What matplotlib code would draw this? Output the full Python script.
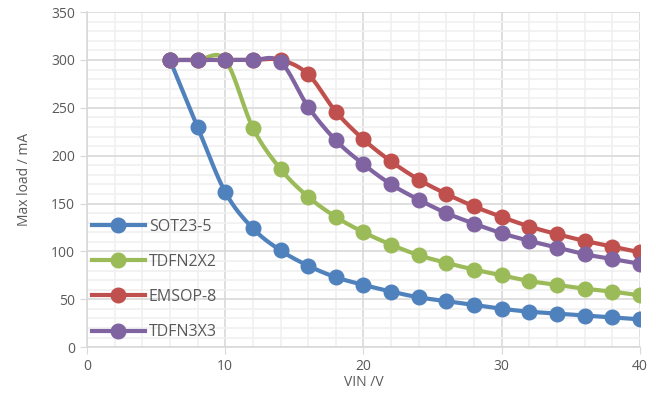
import numpy as np
import matplotlib
matplotlib.use("Agg")
import matplotlib.pyplot as plt
from matplotlib.ticker import MultipleLocator

# data
vin = [6, 8, 10, 12, 14, 16, 18, 20, 22, 24, 26, 28, 30, 32, 34, 36, 38, 40]
sot23_5 = [300, 230, 162, 124, 101, 85, 73, 65, 58, 52, 48, 44, 40, 37, 35, 33, 31, 29]
tdfn2x2 = [300, 300, 300, 229, 186, 157, 136, 120, 107, 96, 88, 81, 75, 69, 65, 61, 58, 54]
emsop_8 = [300, 300, 300, 300, 300, 285, 246, 217, 194, 175, 160, 147, 136, 126, 118, 111, 105, 99]
tdfn3x3 = [300, 300, 300, 300, 298, 251, 216, 191, 170, 154, 140, 129, 119, 111, 104, 97, 92, 87]

series = [
    ("SOT23-5", sot23_5, "#4F81BD"),
    ("TDFN2X2", tdfn2x2, "#9BBB59"),
    ("EMSOP-8", emsop_8, "#C0504D"),
    ("TDFN3X3", tdfn3x3, "#8064A2"),
]


def smooth(x, y, n=20):
    # Catmull-Rom style smoothing like Excel's smoothed line
    x = np.asarray(x, float)
    y = np.asarray(y, float)
    px = np.concatenate([[x[0]], x, [x[-1]]])
    py = np.concatenate([[y[0]], y, [y[-1]]])
    xs, ys = [], []
    t = np.linspace(0, 1, n)
    for i in range(1, len(px) - 2):
        p0, p1, p2, p3 = np.array([px[i-1], py[i-1]]), np.array([px[i], py[i]]), \
            np.array([px[i+1], py[i+1]]), np.array([px[i+2], py[i+2]])
        c1 = p1 + (p2 - p0) / 6
        c2 = p2 - (p3 - p1) / 6
        for tt in t:
            b = ((1-tt)**3) * p1 + 3*((1-tt)**2)*tt*c1 + 3*(1-tt)*tt**2*c2 + tt**3*p2
            xs.append(b[0])
            ys.append(b[1])
    return xs, ys


plt.rcParams['font.family'] = ['Open Sans', 'DejaVu Sans']

fig = plt.figure(figsize=(6.56, 4.05), dpi=100)
ax = fig.add_axes([0.1326, 0.143, 0.843, 0.827])

for name, vals, col in series:
    sx, sy = smooth(vin, vals)
    ax.plot(sx, sy, color=col, lw=3, zorder=3)
    ax.plot(vin, vals, 'o', color=col, ms=10.5, zorder=4)
    ax.plot([], [], '-o', color=col, lw=3, ms=10.5, label=name)

ax.set_xlim(0, 40)
ax.set_ylim(0, 350)
ax.xaxis.set_major_locator(MultipleLocator(10))
ax.xaxis.set_minor_locator(MultipleLocator(2))
ax.yaxis.set_major_locator(MultipleLocator(50))
ax.yaxis.set_minor_locator(MultipleLocator(10))
ax.grid(which='major', color='#D9D9D9', lw=1.2, zorder=0)
ax.grid(which='minor', color='#F0F0F0', lw=1.2, zorder=0)
ax.set_axisbelow(True)

for s in ['top', 'right']:
    ax.spines[s].set_visible(False)
for s in ['left', 'bottom']:
    ax.spines[s].set_color('#D9D9D9')
    ax.spines[s].set_linewidth(1.2)
ax.tick_params(which='major', length=5, color='#D9D9D9', labelcolor='#595959', labelsize=10)
ax.tick_params(which='minor', length=0)

ax.set_xlabel('VIN /V', color='#595959', fontsize=10, labelpad=1)
ax.set_ylabel('Max load / mA', color='#595959', fontsize=10, labelpad=14)

ax.legend(loc='lower left', bbox_to_anchor=(-0.008, -0.008), frameon=False,
          fontsize=11.5, labelcolor='#595959', handlelength=3.3,
          labelspacing=1.2, handletextpad=0.25, borderaxespad=0.2)

fig.savefig('out.png', dpi=100)
